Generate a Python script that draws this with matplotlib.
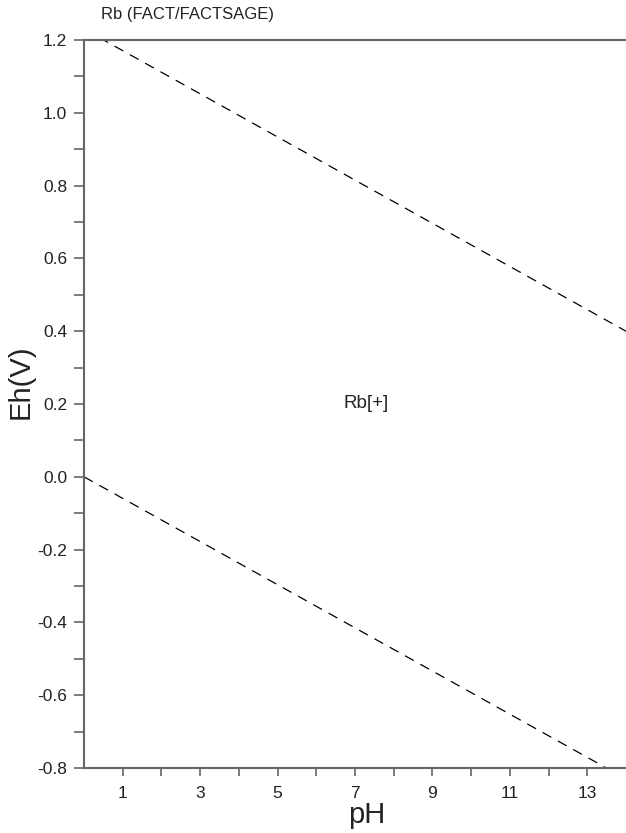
"""
Eh-pH diagram for Rb (FACT/FACTSAGE): only Rb[+] field, with the water
stability lines drawn dashed.
"""
from matplotlib import pyplot as plt
from matplotlib.ticker import MultipleLocator, FixedLocator

plt.rcParams['font.family'] = ['Liberation Sans', 'DejaVu Sans']

# water stability lines
ph_ends = [0.0, 14.0]
eh_upper = [1.23, 0.40]
eh_lower = [0.0, -0.83]

x_ticks = [1, 2, 3, 4, 5, 6, 7, 8, 9, 10, 11, 12, 13]
x_labels = ['1', '', '3', '', '5', '', '7', '', '9', '', '11', '', '13']

field_label = "Rb[+]"
field_pos = (7.3, 0.2)

axis_col = '#666666'
text_col = '#222222'

fig = plt.figure(figsize=(6.26, 8.33), dpi=100)
ax = fig.add_axes([84/626, 1-768/833, 1-84/626, (768-40)/833])

ax.plot(ph_ends, eh_upper, color='black', lw=0.9, ls=(0, (8, 6)))
ax.plot(ph_ends, eh_lower, color='black', lw=0.9, ls=(0, (8, 6)))

ax.set_xlim(0, 14)
ax.set_ylim(-0.8, 1.2)

ax.xaxis.set_major_locator(FixedLocator(x_ticks))
ax.set_xticklabels(x_labels)
ax.yaxis.set_major_locator(MultipleLocator(0.2))
ax.yaxis.set_minor_locator(MultipleLocator(0.1))
ax.yaxis.set_major_formatter(plt.FuncFormatter(lambda v, p: '%.1f' % v))

ax.tick_params(axis='y', which='both', direction='out', length=7, width=1.2,
               color=axis_col, labelcolor=text_col, labelsize=12.5, pad=5)
ax.tick_params(axis='x', which='both', direction='out', length=6, width=1.2,
               color=axis_col, labelcolor=text_col, labelsize=12.5, pad=7)

for s in ['left', 'bottom', 'top']:
    ax.spines[s].set_color(axis_col)
    ax.spines[s].set_linewidth(1.5)
ax.spines['right'].set_visible(False)

ax.set_xlabel('pH', fontsize=21, color=text_col)
ax.xaxis.set_label_coords(7.3/14, -0.045)
ax.set_ylabel('Eh(V)', fontsize=21, color=text_col)
ax.yaxis.set_label_coords(-0.092, 0.53)

ax.text(field_pos[0], field_pos[1], field_label, fontsize=13.5,
        color=text_col, ha='center', va='center')

fig.text(101/626, 1-14/833, 'Rb (FACT/FACTSAGE)', fontsize=12,
         color=text_col, ha='left', va='center')

plt.savefig('out.png', dpi=100)
